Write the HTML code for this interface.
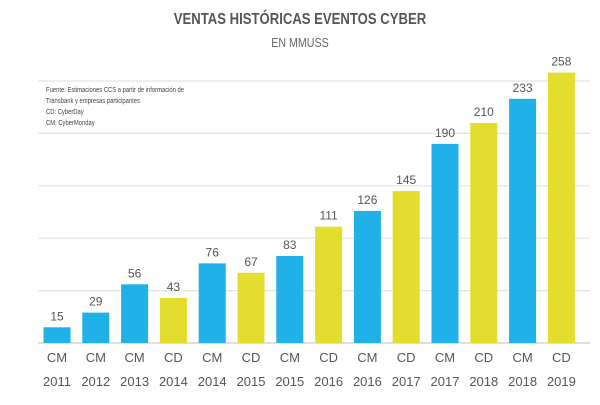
<!DOCTYPE html>
<html><head><meta charset="utf-8"><style>
body{margin:0;background:#fff;width:600px;height:400px;overflow:hidden;font-family:"Liberation Sans Narrow","Liberation Sans",sans-serif}
</style></head><body>
<svg width="600" height="400">
<text x="300" y="24" text-anchor="middle" font-size="16" font-weight="bold" fill="#555" transform="translate(300,0) scale(0.82,1) translate(-300,0)">VENTAS HISTÓRICAS EVENTOS CYBER</text>
<text x="300" y="47" text-anchor="middle" font-size="13" fill="#666" transform="translate(300,0) scale(0.82,1) translate(-300,0)">EN MMUSS</text>
<g id="grid"></g>
<g font-size="7.5" fill="#444" transform="translate(46,0) scale(0.78,1)">
<text x="0" y="92">Fuente: Estimaciones CCS a partir de información de</text>
<text x="0" y="103">Transbank y empresas participantes</text>
<text x="0" y="114">CD: CyberDay</text>
<text x="0" y="125">CM: CyberMonday</text>
</g>
<g id="bars"></g>
</svg>
<script>
const events=["CM","CM","CM","CD","CM","CD","CM","CD","CM","CD","CM","CD","CM","CD"];
const years=["2011","2012","2013","2014","2014","2015","2015","2016","2016","2017","2017","2018","2018","2019"];
const values=[15,29,56,43,76,67,83,111,126,145,190,210,233,258];
const gridTicks=[0,50,100,150,200,250];
const NS="http://www.w3.org/2000/svg";
const base=343, k=262/250;
const y=v=>base-v*k;
const x=i=>57+i*38.8;
function mk(t,a,p){const e=document.createElementNS(NS,t);for(const n in a)e.setAttribute(n,a[n]);p.appendChild(e);return e;}
const g=document.getElementById('grid');
gridTicks.forEach(t=>{const l=mk('line',{x1:38,x2:590,y1:y(t),y2:y(t),stroke:t===0?'#ccc':'#e4e4e4','stroke-width':1.2},g);

});
const b=document.getElementById('bars');
values.forEach((v,i)=>{
const r=mk('rect',{x:x(i)-13.5,y:y(v),width:27,height:base-y(v),fill:events[i]==="CM"?'#1fb1e8':'#e3de2e'},b);


const tv=mk('text',{x:x(i),y:y(v)-7,'text-anchor':'middle','font-size':12,fill:'#555'},b);tv.textContent=v;


const t1=mk('text',{x:x(i),y:362,'text-anchor':'middle','font-size':13,fill:'#555'},b);t1.textContent=events[i];


const t2=mk('text',{x:x(i),y:386,'text-anchor':'middle','font-size':13,fill:'#555'},b);t2.textContent=years[i];


});
</script>
</body></html>
